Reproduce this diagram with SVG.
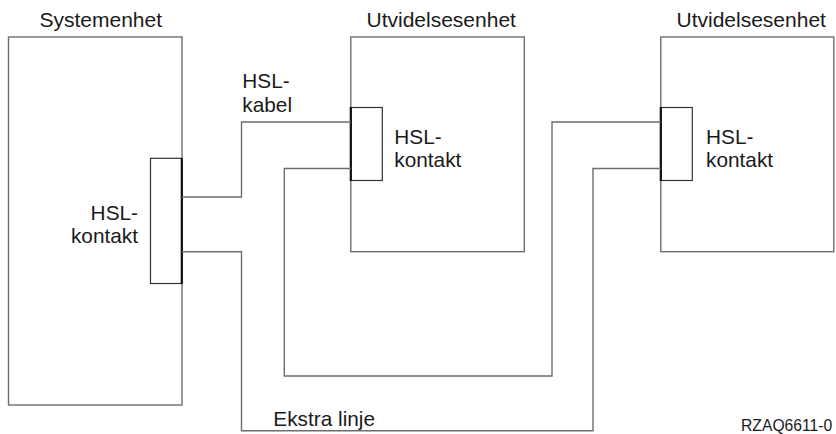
<svg xmlns="http://www.w3.org/2000/svg" width="836" height="434" viewBox="0 0 836 434">
<style>
.unit{fill:none;stroke:#6e6e6e;stroke-width:1.4}
.port{fill:none;stroke:#333;stroke-width:1.2}
.edge{stroke:#111;stroke-width:2.2}
.wire{fill:none;stroke:#6e6e6e;stroke-width:1.4}
text{font-family:"Liberation Sans",Arial,sans-serif;font-size:20.8px;fill:#1a1a1a}
.title{font-size:21px}
.small{font-size:15.7px}
</style>
<rect width="836" height="434" fill="#fff"/>
<g id="systemenhet">
<rect class="unit" x="8.5" y="37" width="173.5" height="368"/>
<text class="title" x="39.5" y="27">Systemenhet</text>
</g>
<g id="sys-kontakt">
<rect class="port" x="150.5" y="158.3" width="31.3" height="125.2"/>
<line class="edge" x1="181.8" y1="158" x2="181.8" y2="284"/>
<text x="138" y="220" text-anchor="end">HSL-</text>
<text x="138" y="243.3" text-anchor="end">kontakt</text>
</g>
<g id="utvidelse1">
<rect class="unit" x="350.8" y="37" width="173.5" height="214.7"/>
<text class="title" x="366.5" y="27.3">Utvidelsesenhet</text>
</g>
<g id="utv1-kontakt">
<rect class="port" x="350.8" y="107.5" width="31.5" height="73"/>
<line class="edge" x1="350.8" y1="107" x2="350.8" y2="181"/>
<text x="394.3" y="144">HSL-</text>
<text x="394.3" y="167.3">kontakt</text>
</g>
<g id="utvidelse2">
<rect class="unit" x="660.8" y="37" width="173" height="214.7"/>
<text class="title" x="676.5" y="27.3">Utvidelsesenhet</text>
</g>
<g id="utv2-kontakt">
<rect class="port" x="660.8" y="107.5" width="31.5" height="73"/>
<line class="edge" x1="660.8" y1="107" x2="660.8" y2="181"/>
<text x="706" y="143.5">HSL-</text>
<text x="706" y="166.8">kontakt</text>
</g>
<g id="connectors">
<polyline class="wire" points="182,197 241.5,197 241.5,122 350.8,122"/>
<polyline class="wire" points="350.8,168.5 284.3,168.5 284.3,376 552,376 552,122 660.8,122"/>
<polyline class="wire" points="182,251.7 241.5,251.7 241.5,430.7 593,430.7 593,168.5 660.8,168.5"/>
</g>
<g id="labels">
<text x="242.3" y="88">HSL-</text>
<text x="242.3" y="112.3">kabel</text>
<text x="273.3" y="426">Ekstra linje</text>
<text class="small" x="741" y="430.7">RZAQ6611-0</text>
</g>
</svg>
